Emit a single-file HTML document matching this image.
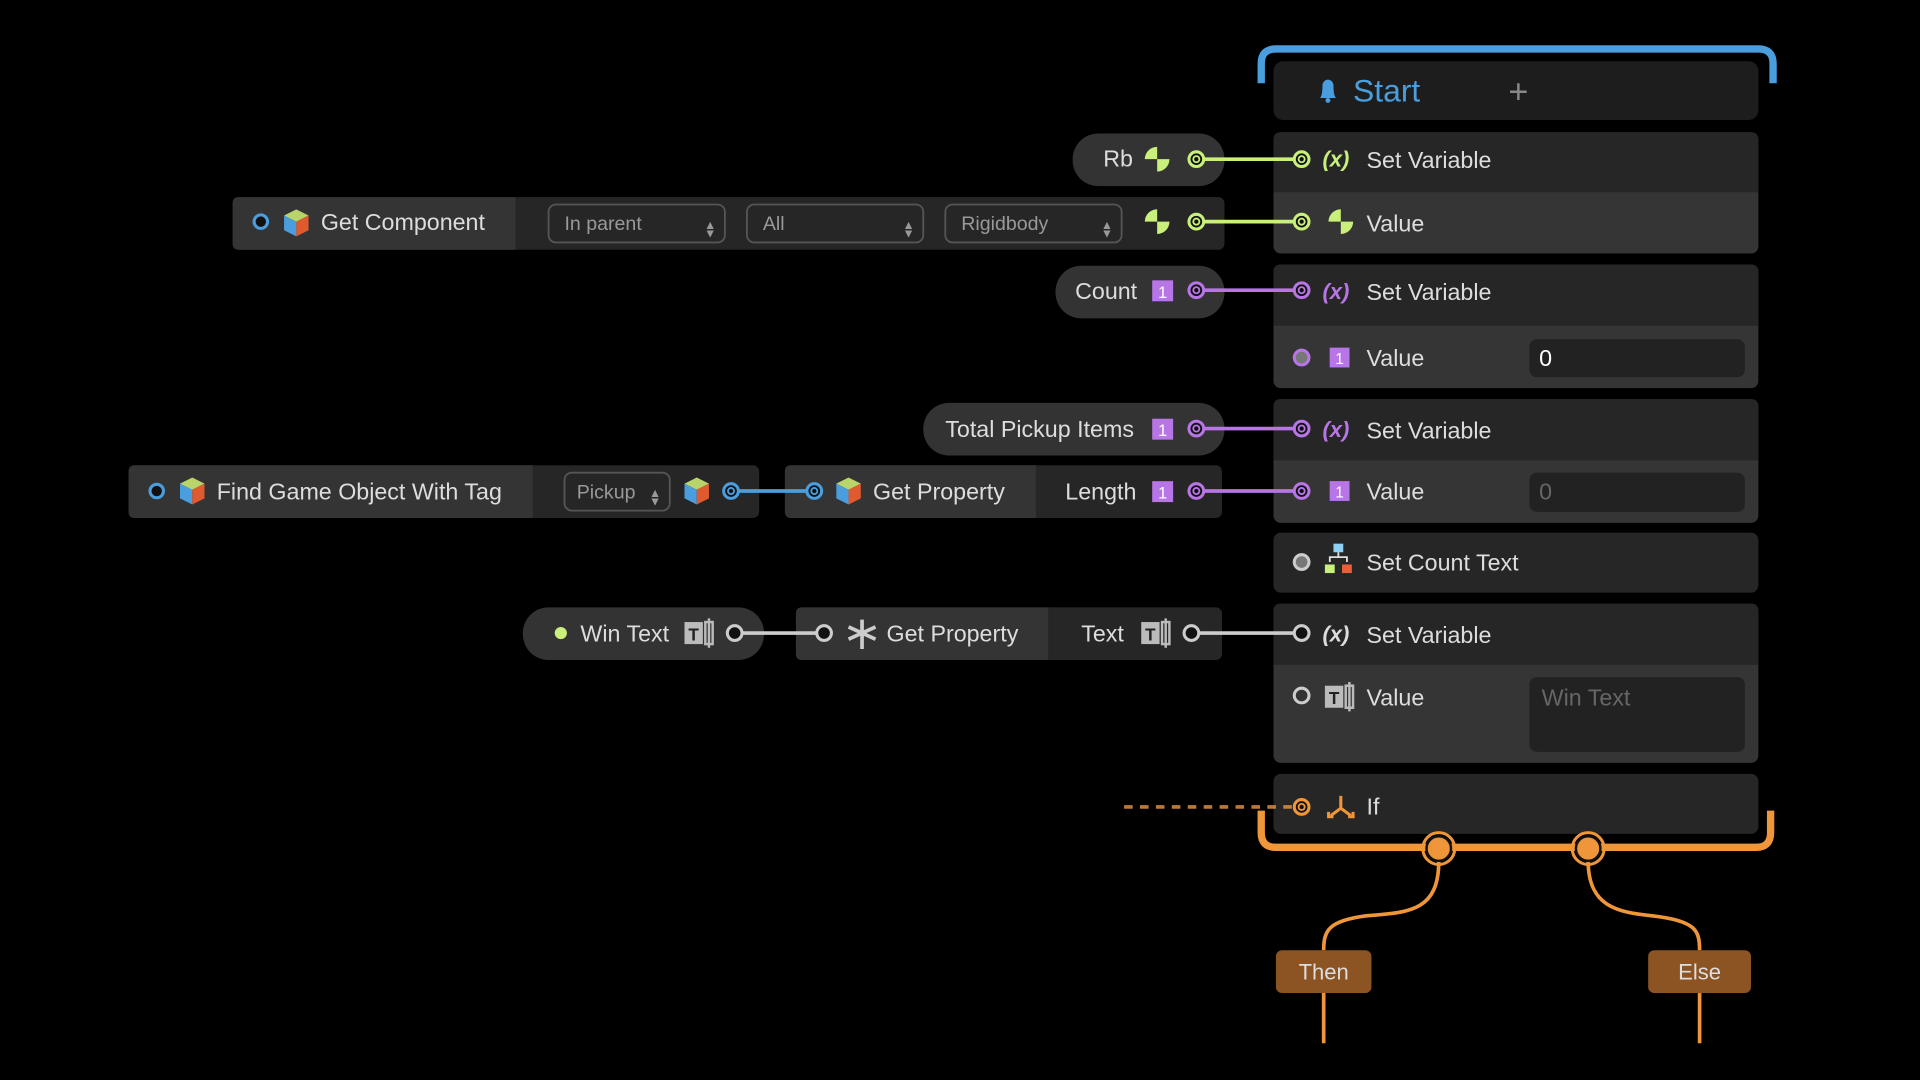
<!DOCTYPE html>
<html><head><meta charset="utf-8"><style>
html,body{margin:0;padding:0;background:#000;width:1920px;height:1080px;overflow:hidden}
svg{display:block}
text{font-family:"Liberation Sans",sans-serif}
</style></head><body>
<svg width="1920" height="1080" viewBox="0 0 1568 882" xmlns="http://www.w3.org/2000/svg">
<defs>
<symbol id="cube" viewBox="0 0 24 24"><polygon points="12,1 22,6 12,11 2,6" fill="#b9d46a"/><polygon points="2,6 12,11 12,23 2,18" fill="#4a9ede"/><polygon points="12,11 22,6 22,18 12,23" fill="#e05a30"/></symbol>
<symbol id="num" viewBox="0 0 20 20"><rect x="1" y="1" width="18" height="18" fill="#b775e6"/><text x="10" y="16" font-size="14" fill="#fff" text-anchor="middle" font-family="Liberation Sans">1</text></symbol>
<symbol id="rb" viewBox="0 0 24 24"><path d="M12,12 L12,1 A11,11 0 0 0 1,12 Z" fill="#c8f07a"/><path d="M12,12 L12,23 A11,11 0 0 0 23,12 Z" fill="#c8f07a"/></symbol>
<symbol id="tt" viewBox="0 0 26 26"><rect x="1" y="4" width="15" height="18" fill="#bbb"/><text x="8.5" y="19" font-size="14" font-weight="bold" fill="#222" text-anchor="middle" font-family="Liberation Sans">T</text><rect x="18" y="4" width="6" height="18" fill="none" stroke="#bbb" stroke-width="2"/><line x1="21" y1="1" x2="21" y2="25" stroke="#bbb" stroke-width="2"/></symbol>
</defs>

<path d="M1030,68 V52 Q1030,40 1042,40 H1436 Q1448,40 1448,52 V68" fill="none" stroke="#4a9ede" stroke-width="6"/>
<rect x="1040" y="50" width="396" height="48" rx="8" fill="#1d1d1d"/>
<path d="M1078,80 Q1080,78 1080,70 A4.5,5 0 0 1 1089,70 Q1089,78 1091,80 Z" fill="#4a9ede"/><circle cx="1084.5" cy="82" r="2" fill="#4a9ede"/>
<text x="1105" y="83" font-size="26" fill="#4a9ede">Start</text>
<text x="1240" y="84" font-size="28" fill="#888" text-anchor="middle">+</text>

<rect x="1040" y="108" width="396" height="99" rx="6" fill="#353535"/>
<path d="M1040,157 V114 Q1040,108 1046,108 H1430 Q1436,108 1436,114 V157 Z" fill="#262626"/>
<rect x="1040" y="216" width="396" height="101" rx="6" fill="#353535"/>
<path d="M1040,266 V222 Q1040,216 1046,216 H1430 Q1436,216 1436,222 V266 Z" fill="#262626"/>
<rect x="1249" y="277" width="176" height="31" rx="6" fill="#222"/>
<rect x="1040" y="326" width="396" height="101" rx="6" fill="#353535"/>
<path d="M1040,376 V332 Q1040,326 1046,326 H1430 Q1436,326 1436,332 V376 Z" fill="#262626"/>
<rect x="1249" y="386" width="176" height="32" rx="6" fill="#222"/>
<rect x="1040" y="435" width="396" height="49" rx="6" fill="#262626"/>
<rect x="1040" y="493" width="396" height="130" rx="6" fill="#353535"/>
<path d="M1040,543 V499 Q1040,493 1046,493 H1430 Q1436,493 1436,499 V543 Z" fill="#262626"/>
<rect x="1249" y="553" width="176" height="61" rx="6" fill="#222"/>
<rect x="1040" y="632" width="396" height="49" rx="6" fill="#262626"/>

<g font-size="19" fill="#ddd">
<text x="1116" y="137">Set Variable</text>
<text x="1116" y="189">Value</text>
<text x="1116" y="245">Set Variable</text>
<text x="1116" y="299">Value</text>
<text x="1116" y="358">Set Variable</text>
<text x="1116" y="408">Value</text>
<text x="1116" y="466">Set Count Text</text>
<text x="1116" y="525">Set Variable</text>
<text x="1116" y="576">Value</text>
<text x="1116" y="665">If</text>
<text x="1257" y="299" fill="#fff">0</text>
<text x="1257" y="408" fill="#666">0</text>
<text x="1259" y="576" fill="#666">Win Text</text>
</g>
<g font-size="18" font-weight="bold" font-style="italic" font-family="Liberation Serif">
<text x="1080" y="136" fill="#c8f07a">(x)</text>
<text x="1080" y="244" fill="#b775e6">(x)</text>
<text x="1080" y="357" fill="#b775e6">(x)</text>
<text x="1080" y="524" fill="#ddd">(x)</text>
</g>
<use href="#rb" x="1084" y="170" width="22" height="22"/>
<use href="#num" x="1085" y="283" width="18" height="18"/>
<use href="#num" x="1085" y="392" width="18" height="18"/>
<use href="#tt" x="1081" y="556" width="26" height="26"/>
<rect x="1089" y="444" width="8" height="7" fill="#8fd0f5"/>
<path d="M1086,459 V455 H1100 V459 M1093,451 V455" fill="none" stroke="#ddd" stroke-width="1.5"/>
<rect x="1082" y="461" width="8" height="7" fill="#c8f07a"/><rect x="1096" y="461" width="8" height="7" fill="#e8603a"/>
<path d="M1095,650 V660 M1095,660 L1087,666 M1095,660 L1103,666 M1085,663 V667 H1089 M1105,663 V667 H1101" fill="none" stroke="#f0963a" stroke-width="2.5"/>

<path d="M1030,662 V680 Q1030,692 1042,692 H1434 Q1446,692 1446,680 V662" fill="none" stroke="#f0963a" stroke-width="6"/>
<path d="M1055,659 H915" stroke="#f0963a" stroke-width="3" stroke-dasharray="7,6" opacity="0.8"/>
<path d="M1175,703 C1175,745 1150,745 1115,748 C1085,752 1081,760 1081,776" fill="none" stroke="#f0963a" stroke-width="3"/>
<path d="M1297,703 C1297,740 1320,745 1350,748 C1385,752 1388,760 1388,776" fill="none" stroke="#f0963a" stroke-width="3"/>
<line x1="1081" y1="811" x2="1081" y2="852" stroke="#f0963a" stroke-width="3"/>
<line x1="1388" y1="811" x2="1388" y2="852" stroke="#f0963a" stroke-width="3"/>
<circle cx="1175" cy="693" r="10" fill="#f0963a" stroke="#111" stroke-width="2"/><circle cx="1175" cy="693" r="13" fill="none" stroke="#f0963a" stroke-width="2.5"/>
<circle cx="1297" cy="693" r="10" fill="#f0963a" stroke="#111" stroke-width="2"/><circle cx="1297" cy="693" r="13" fill="none" stroke="#f0963a" stroke-width="2.5"/>
<rect x="1042" y="776" width="78" height="35" rx="5" fill="#8c5422"/>
<rect x="1346" y="776" width="84" height="35" rx="5" fill="#8c5422"/>
<text x="1081" y="800" font-size="18" fill="#ddd" text-anchor="middle">Then</text>
<text x="1388" y="800" font-size="18" fill="#ddd" text-anchor="middle">Else</text>

<rect x="876" y="109" width="124" height="43" rx="21" fill="#333"/>
<rect x="190" y="161" width="810" height="43" rx="5" fill="#262626"/>
<path d="M421,161 H195 Q190,161 190,166 V199 Q190,204 195,204 H421 Z" fill="#343434"/>
<rect x="862" y="217" width="138" height="43" rx="21" fill="#333"/>
<rect x="754" y="329" width="246" height="43" rx="21" fill="#333"/>
<rect x="105" y="380" width="515" height="43" rx="5" fill="#262626"/>
<path d="M435,380 H110 Q105,380 105,385 V418 Q105,423 110,423 H435 Z" fill="#343434"/>
<rect x="641" y="380" width="357" height="43" rx="5" fill="#262626"/>
<path d="M846,380 H646 Q641,380 641,385 V418 Q641,423 646,423 H846 Z" fill="#343434"/>
<rect x="427" y="496" width="197" height="43" rx="21" fill="#333"/>
<rect x="650" y="496" width="348" height="43" rx="5" fill="#262626"/>
<path d="M856,496 H655 Q650,496 650,501 V534 Q650,539 655,539 H856 Z" fill="#343434"/>

<g fill="none" stroke="#555" stroke-width="1.5">
<rect x="448" y="167" width="144" height="31" rx="6"/>
<rect x="610" y="167" width="144" height="31" rx="6"/>
<rect x="772" y="167" width="144" height="31" rx="6"/>
<rect x="461" y="386" width="86" height="31" rx="6"/>
</g>
<g fill="#999" font-size="16">
<text x="461" y="188">In parent</text>
<text x="623" y="188">All</text>
<text x="785" y="188">Rigidbody</text>
<text x="471" y="407">Pickup</text>
<text x="575" y="187" font-size="10">▲</text><text x="575" y="194" font-size="10">▼</text>
<text x="737" y="187" font-size="10">▲</text><text x="737" y="194" font-size="10">▼</text>
<text x="899" y="187" font-size="10">▲</text><text x="899" y="194" font-size="10">▼</text>
<text x="530" y="406" font-size="10">▲</text><text x="530" y="413" font-size="10">▼</text>
</g>

<g font-size="19" fill="#ddd">
<text x="901" y="136">Rb</text>
<text x="262" y="188">Get Component</text>
<text x="878" y="244">Count</text>
<text x="772" y="357">Total Pickup Items</text>
<text x="177" y="408">Find Game Object With Tag</text>
<text x="713" y="408">Get Property</text>
<text x="870" y="408">Length</text>
<text x="474" y="524">Win Text</text>
<text x="724" y="524">Get Property</text>
<text x="883" y="524">Text</text>
</g>
<use href="#rb" x="934" y="119" width="22" height="22"/>
<use href="#rb" x="934" y="170" width="22" height="22"/>
<use href="#num" x="940" y="228" width="19" height="19"/>
<use href="#num" x="940" y="341" width="19" height="19"/>
<use href="#num" x="940" y="392" width="19" height="19"/>
<use href="#cube" x="230" y="169" width="24" height="26"/>
<use href="#cube" x="145" y="388" width="24" height="26"/>
<use href="#cube" x="557" y="388" width="24" height="26"/>
<use href="#cube" x="681" y="388" width="24" height="26"/>
<use href="#tt" x="558" y="504" width="26" height="26"/>
<use href="#tt" x="931" y="504" width="26" height="26"/>
<circle cx="458" cy="517" r="5" fill="#c8f07a"/>
<g stroke="#ccc" stroke-width="3" fill="none"><path d="M704,506 V530 M693,512 L715,522 M715,512 L693,522"/></g>

<g stroke-width="3" fill="none">
<line x1="977" y1="130" x2="1063" y2="130" stroke="#c8f07a"/>
<line x1="977" y1="181" x2="1063" y2="181" stroke="#c8f07a"/>
<line x1="977" y1="237" x2="1063" y2="237" stroke="#b775e6"/>
<line x1="977" y1="350" x2="1063" y2="350" stroke="#b775e6"/>
<line x1="977" y1="401" x2="1063" y2="401" stroke="#b775e6"/>
<line x1="597" y1="401" x2="665" y2="401" stroke="#4a9ede"/>
<line x1="600" y1="517" x2="673" y2="517" stroke="#ccc"/>
<line x1="973" y1="517" x2="1063" y2="517" stroke="#ccc"/>
</g>
<g stroke-width="2.5" fill="#111">
<circle cx="977" cy="130" r="6" stroke="#c8f07a"/><circle cx="1063" cy="130" r="6" stroke="#c8f07a"/>
<circle cx="977" cy="181" r="6" stroke="#c8f07a"/><circle cx="1063" cy="181" r="6" stroke="#c8f07a"/>
<circle cx="977" cy="237" r="6" stroke="#b775e6"/><circle cx="1063" cy="237" r="6" stroke="#b775e6"/>
<circle cx="977" cy="350" r="6" stroke="#b775e6"/><circle cx="1063" cy="350" r="6" stroke="#b775e6"/>
<circle cx="977" cy="401" r="6" stroke="#b775e6"/><circle cx="1063" cy="401" r="6" stroke="#b775e6"/>
<circle cx="597" cy="401" r="6" stroke="#4a9ede"/><circle cx="665" cy="401" r="6" stroke="#4a9ede"/>
<circle cx="600" cy="517" r="6" stroke="#ccc"/><circle cx="673" cy="517" r="6" stroke="#ccc"/>
<circle cx="973" cy="517" r="6" stroke="#ccc"/><circle cx="1063" cy="517" r="6" stroke="#ccc"/>
<circle cx="1063" cy="659" r="6" stroke="#f0963a"/>
<circle cx="213" cy="181" r="5.5" stroke="#4a9ede"/><circle cx="128" cy="401" r="5.5" stroke="#4a9ede"/>
<circle cx="1063" cy="292" r="6" stroke="#b775e6" fill="#777"/>
<circle cx="1063" cy="459" r="6" stroke="#ccc" fill="#777"/>
<circle cx="1063" cy="568" r="6" stroke="#ccc" fill="#333"/>
</g>
<g fill="none" stroke-width="1.5">
<circle cx="977" cy="130" r="2.5" stroke="#c8f07a"/><circle cx="1063" cy="130" r="2.5" stroke="#c8f07a"/>
<circle cx="977" cy="181" r="2.5" stroke="#c8f07a"/><circle cx="1063" cy="181" r="2.5" stroke="#c8f07a"/>
<circle cx="977" cy="237" r="2.5" stroke="#b775e6"/><circle cx="1063" cy="237" r="2.5" stroke="#b775e6"/>
<circle cx="977" cy="350" r="2.5" stroke="#b775e6"/><circle cx="1063" cy="350" r="2.5" stroke="#b775e6"/>
<circle cx="977" cy="401" r="2.5" stroke="#b775e6"/><circle cx="1063" cy="401" r="2.5" stroke="#b775e6"/>
<circle cx="597" cy="401" r="2.5" stroke="#4a9ede"/><circle cx="665" cy="401" r="2.5" stroke="#4a9ede"/>
<circle cx="1063" cy="659" r="2.5" stroke="#f0963a"/>
</g>
</svg>
</body></html>
